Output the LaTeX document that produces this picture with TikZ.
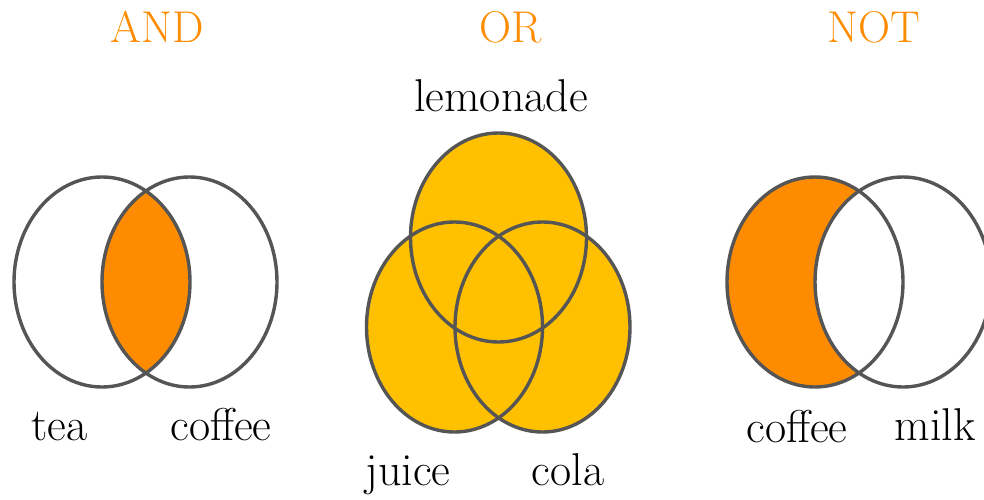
\documentclass[tikz,border=0pt]{standalone}
\definecolor{lineg}{HTML}{555555}
\definecolor{orangefill}{HTML}{FF8C00}
\definecolor{yellowfill}{HTML}{FFC000}
\tikzset{
  venn/.style={draw=lineg, line width=3.4pt},
  lbl/.style={anchor=base, inner sep=0pt, font=\rmfamily\fontsize{46}{52}\selectfont, text=black},
  ttl/.style={anchor=base, inner sep=0pt, font=\rmfamily\fontsize{44.5}{50}\selectfont, text=orangefill},
}
\begin{document}
\begin{tikzpicture}[x=1pt,y=-1pt]
\useasboundingbox (0,0) rectangle (984,500);
% ---- AND ----
\begin{scope}
  \clip (102,282) ellipse [x radius=88, y radius=105];
  \fill[orangefill] (189.5,282) ellipse [x radius=87.5, y radius=105];
\end{scope}
\draw[venn] (102,282) ellipse [x radius=88, y radius=105];
\draw[venn] (189.5,282) ellipse [x radius=87.5, y radius=105];
% ---- OR ----
\fill[yellowfill] (498.5,237.5) ellipse [x radius=88, y radius=104.5];
\fill[yellowfill] (454.5,327) ellipse [x radius=88, y radius=105];
\fill[yellowfill] (542.5,327) ellipse [x radius=87.5, y radius=105];
\draw[venn] (498.5,237.5) ellipse [x radius=88, y radius=104.5];
\draw[venn] (454.5,327) ellipse [x radius=88, y radius=105];
\draw[venn] (542.5,327) ellipse [x radius=87.5, y radius=105];
% ---- NOT ----
\fill[orangefill] (815,282) ellipse [x radius=88, y radius=105];
\fill[white] (903,282) ellipse [x radius=88, y radius=105];
\draw[venn] (815,282) ellipse [x radius=88, y radius=105];
\draw[venn] (903,282) ellipse [x radius=88, y radius=105];
% ---- titles ----
\node[ttl] (tand) at (157.5,43) {AND};
\node[ttl] (tor) at (511,43) {OR};
\node[ttl] (tnot) at (873.5,43) {NOT};
% ---- labels ----
\node[lbl] (tea) at (59.5,440) {tea};
\node[lbl] (coffeeA) at (221,440) {coffee};
\node[lbl] (lemonade) at (501,112) {lemonade};
\node[lbl] (juice) at (408,485) {juice};
\node[lbl] (cola) at (568,485) {cola};
\node[lbl] (coffeeN) at (797,442) {coffee};
\node[lbl] (milk) at (935,440) {milk};
\end{tikzpicture}
\end{document}
